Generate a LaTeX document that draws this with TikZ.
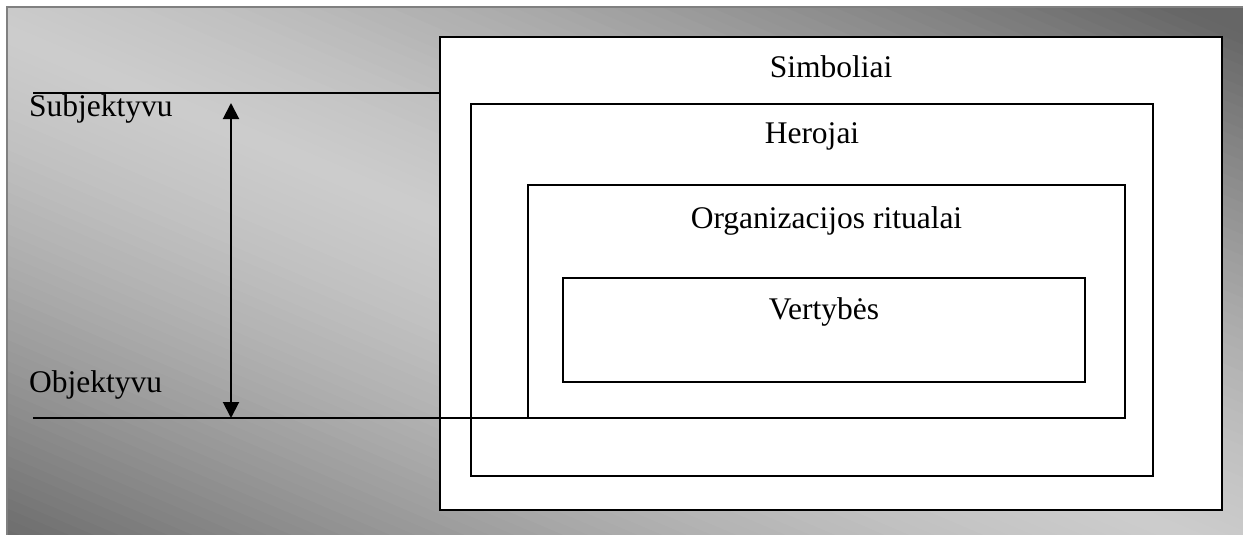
\documentclass[tikz,border=0pt]{standalone}
\usepackage{fontspec}
\setmainfont{Liberation Serif}
\usetikzlibrary{arrows.meta}

\tikzset{
	layer/.style={draw, fill=white, line width=1.6pt, inner sep=0pt},
	word/.style={font=\fontsize{31.5}{38}\selectfont, inner sep=0pt, anchor=base},
	scale arrow/.style={<->, >={Triangle[length=16pt,width=16pt]}, line width=2pt},
}

\begin{document}
\begin{tikzpicture}[x=1pt, y=-1pt]
	\useasboundingbox (0,0) rectangle (1243,535);
	% background, light along the diagonal, dark in two corners
	\begin{scope}
		\clip (8,8) rectangle (1243,535);
		\foreach \i in {0,...,104} {
			\pgfmathsetmacro\da{-1.05+\i*0.02}
			\pgfmathsetmacro\db{\da+0.03}
			\pgfmathsetmacro\tone{20+40*pow(min(1,abs(\da+0.06)),1.4)}
			\fill[black!\tone] ({8+1235*(\da-0.1)},-45) -- ({8+1235*(\db-0.1)},-45)
				-- ({8+1235*(\db+1.1)},588) -- ({8+1235*(\da+1.1)},588) -- cycle;
		}
	\end{scope}
	\draw[black!50, line width=2pt] (7,7) rectangle (1252,545);

	\node[layer, minimum width=782pt, minimum height=473pt] (simb) at (831,273.5) {};
	\node[layer, minimum width=682pt, minimum height=372pt] (hero) at (812,290) {};
	\node[layer, minimum width=597pt, minimum height=233pt] (rit) at (826.5,301.5) {};
	\node[layer, minimum width=522pt, minimum height=104pt] (vert) at (824,330) {};

	\node[word] (t1) at ([yshift=-41pt]simb.north) {Simboliai};
	\node[word] (t2) at ([yshift=-40pt]hero.north) {Herojai};
	\node[word] (t3) at ([yshift=-44pt]rit.north) {Organizacijos ritualai};
	\node[word] (t4) at ([yshift=-42pt]vert.north) {Vertybės};

	\node[word, anchor=base west] (subj) at (29,117) {Subjektyvu};
	\node[word, anchor=base west] (obj) at (29,392) {Objektyvu};

	\coordinate (sl) at (33,93);
	\coordinate (ol) at (33,418);
	\coordinate (up) at (231,103);
	\coordinate (down) at (up |- ol);

	\path [-, line width=1.6pt] (sl) edge (sl -| simb.west);
	\path [-, line width=1.6pt] (ol) edge (ol -| vert.west);
	\path [scale arrow] (up) edge (down);
\end{tikzpicture}
\end{document}
